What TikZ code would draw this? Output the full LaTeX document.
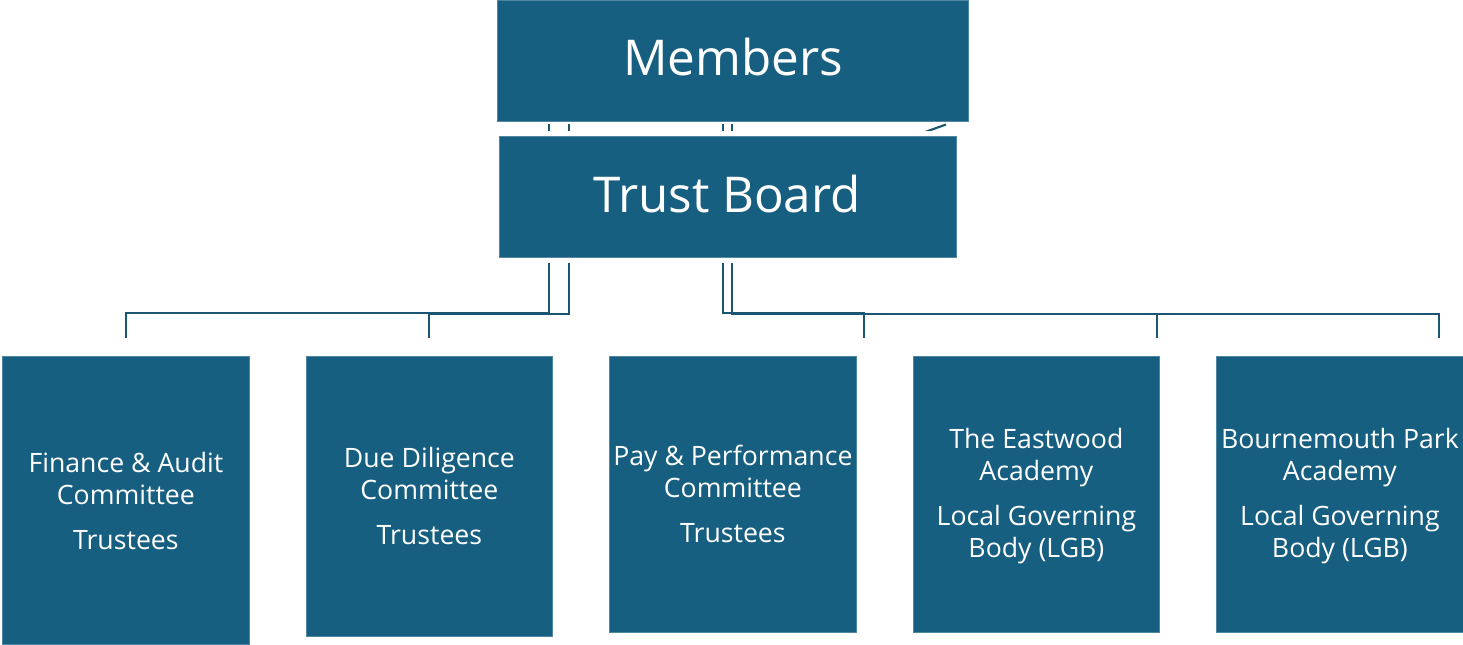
\documentclass[tikz,border=0pt]{standalone}
\usepackage{fontspec}
\setmainfont{Open Sans}
\definecolor{boxfill}{HTML}{175F81}
\definecolor{boxedge}{HTML}{4F86A2}
\definecolor{linecol}{HTML}{1A5673}
\begin{document}
\begin{tikzpicture}[x=0.75pt,y=-0.75pt,
  box/.style={fill=boxfill,draw=boxedge,line width=0.6pt,anchor=north west,inner sep=0pt},
  halo/.style={preaction={draw=white,line width=8pt}},
  conn/.style={draw=linecol,line width=1.6pt},
  lbl/.style={text=white,align=center,inner sep=0pt,font=\fontsize{20pt}{24pt}\selectfont},
  big/.style={text=white,inner sep=0pt,font=\fontsize{37pt}{44pt}\selectfont}]
\useasboundingbox (0,0) rectangle (1463,644);
% Members
\node[box,minimum width=471*0.75pt,minimum height=121*0.75pt] (mem) at (497,0) {};
\node[big] (memt) at (733,57) {Members};
% connector start points below Members
\coordinate (s1) at (549,124);
\coordinate (s2) at (569,124);
\coordinate (s3) at (723,124);
\coordinate (s4) at (732,124);
\coordinate (s5) at (946,124.5);
\coordinate (s5e) at (900,141);
\coordinate (d3) at (864,338);
\coordinate (d4) at (1157,338);
\coordinate (d5) at (1439,338);
% bottom boxes
\node[box,minimum width=247*0.75pt,minimum height=288*0.75pt] (b1) at (2,356) {};
\node[box,minimum width=246*0.75pt,minimum height=280*0.75pt] (b2) at (306,356) {};
\node[box,minimum width=247*0.75pt,minimum height=276*0.75pt] (b3) at (609,356) {};
\node[box,minimum width=246*0.75pt,minimum height=276*0.75pt] (b4) at (913,356) {};
\node[box,minimum width=247*0.75pt,minimum height=276*0.75pt] (b5) at (1216,356) {};
% connectors
\draw[conn] (s1) -- (s1 |- 0,313) -| ([yshift=13.5pt]b1.north);
\draw[conn] (s2) -- (s2 |- 0,314) -| ([yshift=13.5pt]b2.north);
\draw[conn] (s3) -- (s3 |- 0,313) -| (d3);
\draw[conn] (s4) -- (s4 |- 0,314) -| (d4);
\draw[conn] (s4 |- 0,314) -| (d5);
\draw[conn] (s5) -- (s5e);
% Trust Board on top
\node[box,halo,minimum width=457*0.75pt,minimum height=121*0.75pt] (tb) at (499,136) {};
\node[big] (tbt) at (727,194) {Trust Board};
% texts
\node[lbl] (t1) at (b1.north |- 0,501) {Finance \& Audit\\Committee\\[10pt]Trustees};
\node[lbl] (t2) at (b2.north |- 0,496) {Due Diligence\\Committee\\[10pt]Trustees};
\node[lbl] (t3) at (b3.north |- 0,494) {Pay \& Performance\\Committee\\[10pt]Trustees};
\node[lbl] (t4) at (b4.north |- 0,496) {The Eastwood\\Academy\\[10pt]Local Governing\\Body (LGB)};
\node[lbl] (t5) at (b5.north |- 0,496) {Bournemouth Park\\Academy\\[10pt]Local Governing\\Body (LGB)};
\end{tikzpicture}
\end{document}
